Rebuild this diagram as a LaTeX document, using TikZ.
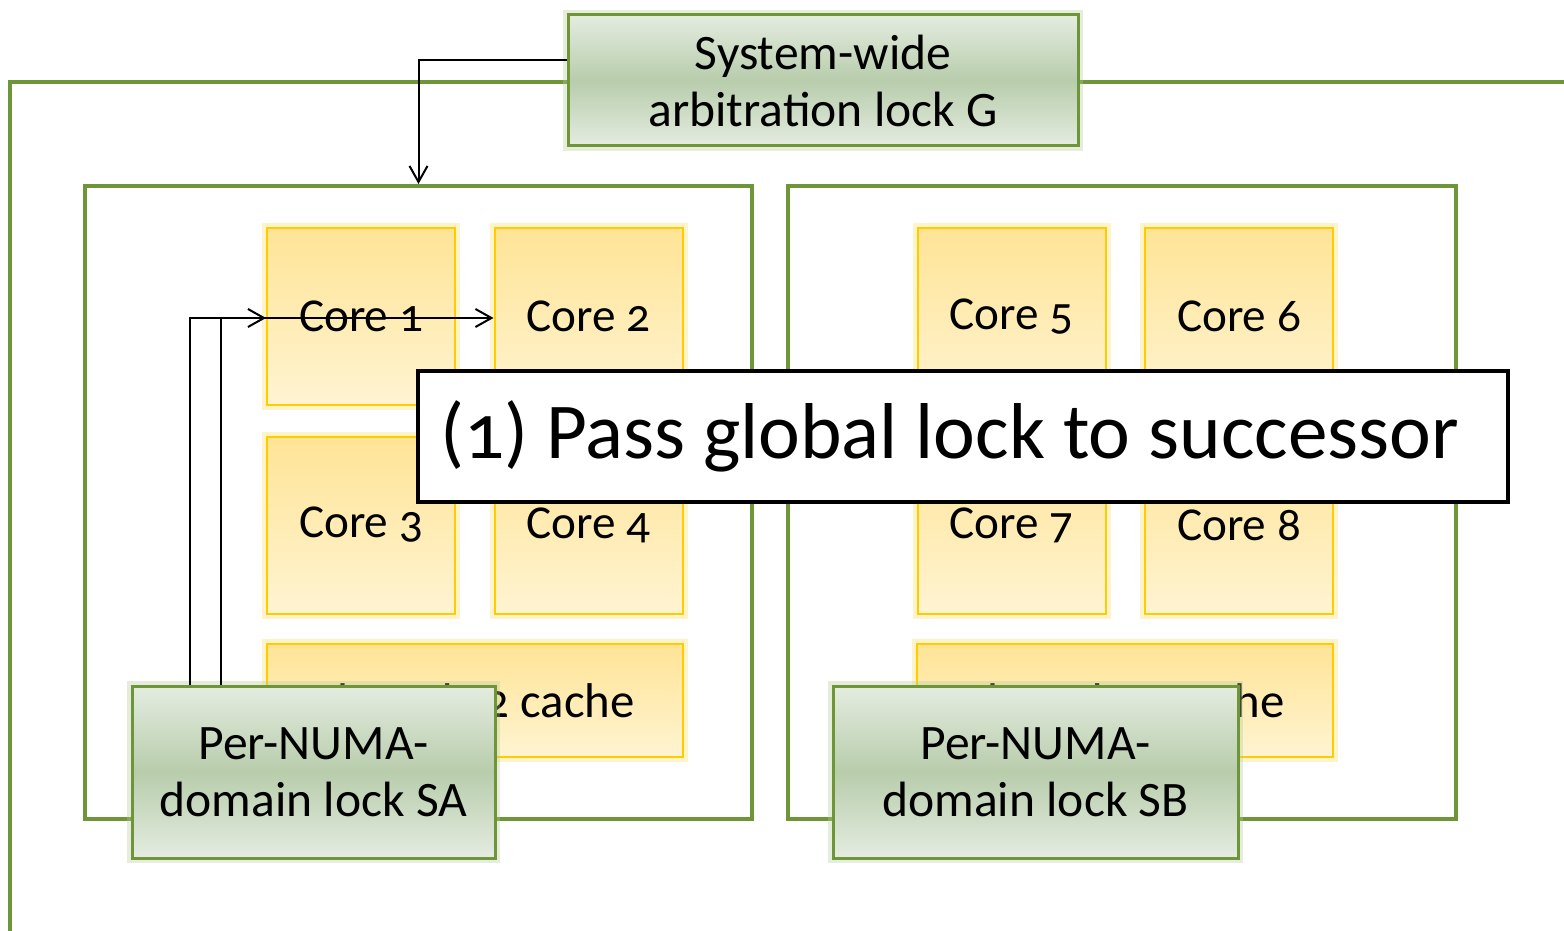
\documentclass[tikz,border=0pt]{standalone}
\usepackage{fontspec}
\setmainfont{Carlito}[Numbers=OldStyle]
\usetikzlibrary{arrows.meta}

\definecolor{lockline}{RGB}{110,150,56}
\definecolor{lockmid}{RGB}{184,205,172}
\definecolor{lockedge}{RGB}{228,236,224}
\definecolor{coreline}{RGB}{255,204,0}
\definecolor{coretop}{RGB}{255,228,150}
\definecolor{corebot}{RGB}{255,244,210}

\tikzset{
  lockbox/.style={draw=lockline, line width=1.5pt, top color=lockedge, bottom color=lockedge,
    middle color=lockmid, align=center, inner sep=0pt, font=\fontsize{24.8}{28.5}\selectfont,
    preaction={draw=lockline!50, line width=5pt, opacity=0.35}},
  corebox/.style={draw=coreline, line width=1pt, top color=coretop, bottom color=corebot,
    minimum width=94pt, minimum height=88.5pt, inner sep=0pt, font=\fontsize{23.6}{28}\selectfont,
    preaction={draw=coreline!60, line width=5pt, opacity=0.35}},
  numabox/.style={draw=lockline, line width=2pt, fill=white, minimum width=334pt, minimum height=316.5pt},
  passarrow/.style={draw=black, line width=1pt, -{Straight Barb[length=8pt,width=9pt]}}
}

\begin{document}
\begin{tikzpicture}[x=0.5pt, y=-0.5pt]
    \useasboundingbox (0,0) rectangle (1564,931);
    % Marco exterior
    \draw[lockline, line width=2pt] (10,931) -- (10,82) -- (1564,82);
    % Dominio NUMA A
    \node[numabox, minimum width=333.5pt] (doma) at (418.5,502.5) {};
    % Dominio NUMA B
    \node[numabox] (domb) at (1122,502.5) {};
    % Cores A
    \node[corebox] (core1) at (361,316.5) {Core 1};
    \node[corebox] (core2) at (588.5,316.5) {Core 2};
    \node[corebox] (core3) at (361,525) {Core 3};
    \node[corebox] (core4) at (588.5,525) {Core 4};
    % Cores B
    \node[corebox] (core5) at (1011.5,316.5) {Core 5};
    \node[corebox] (core6) at (1239,316.5) {Core 6};
    \node[corebox] (core7) at (1011.5,525) {Core 7};
    \node[corebox] (core8) at (1239,525) {Core 8};
    % Caches L2
    \node[corebox, minimum width=208pt, minimum height=56.5pt, font=\fontsize{24.4}{28}\selectfont] (l2a)
        at (475,700.5) {Shared L2 cache};
    \node[corebox, minimum width=208pt, minimum height=56.5pt, font=\fontsize{24.4}{28}\selectfont] (l2b)
        at (1125,700.5) {Shared L2 cache};
    % Candado global
    \node[lockbox, minimum width=255pt, minimum height=65.5pt] (glock) at (823,80.5)
        {System-wide\\arbitration lock G};
    % Candados por dominio
    \node[lockbox, minimum width=181.5pt, minimum height=86pt] (sa) at (313.5,772)
        {Per-NUMA-\\domain lock SA};
    \node[lockbox, minimum width=202.5pt, minimum height=86pt] (sb) at (1035.5,772)
        {Per-NUMA-\\domain lock SB};
    % Flechas
    \draw[passarrow] ([yshift=10pt]glock.west) -| (doma.north);
    \draw[passarrow] ([xshift=-61.75pt]sa.north) |- ([yshift=-0.75pt]core1.west);
    \draw[passarrow] ([xshift=-46.25pt]sa.north) |- ([yshift=-0.75pt]core2.west);
    % Paso 1
    \node[draw=black, line width=1.75pt, fill=white, inner xsep=11pt, inner ysep=0pt,
        minimum height=65.5pt, font=\fontsize{39.6}{48}\selectfont] (step1) at (963,436.5)
        {\makebox[523pt][l]{(1) Pass global lock to successor}};
\end{tikzpicture}
\end{document}
